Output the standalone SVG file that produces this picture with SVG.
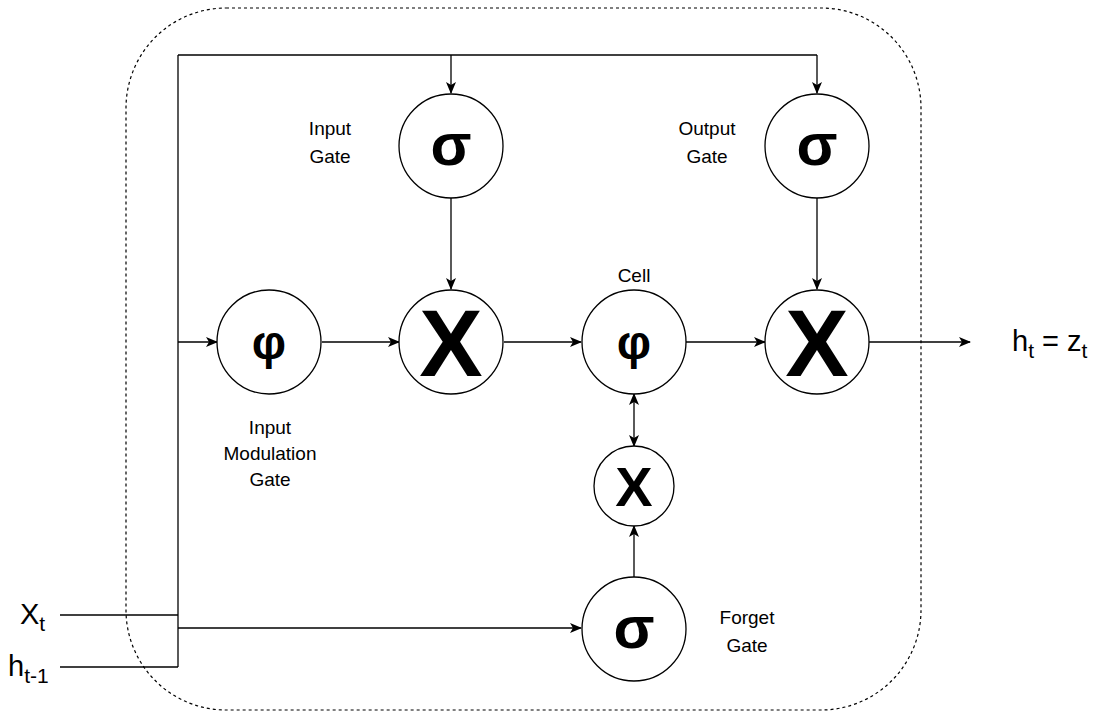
<svg xmlns="http://www.w3.org/2000/svg" width="1100" height="715" viewBox="0 0 1100 715">
<defs>
<marker id="arr" viewBox="0 0 12 10" refX="11" refY="5" markerWidth="12" markerHeight="10" markerUnits="userSpaceOnUse" orient="auto-start-reverse">
<path d="M0,0 L12,5 L0,10 L3,5 Z" fill="#000"/>
</marker>
</defs>
<style>
.node{fill:#fff;stroke:#000;stroke-width:1.3}
.line{fill:none;stroke:#000;stroke-width:1.3}
.lbl{font-family:"Liberation Sans",Arial,sans-serif;font-size:19px;fill:#000;text-anchor:middle}
.sym{font-family:"Liberation Sans",Arial,sans-serif;fill:#000;text-anchor:middle}
.io{font-family:"Liberation Sans",Arial,sans-serif;font-size:29px;fill:#000}
</style>
<rect width="1100" height="715" fill="#fff"/>
<rect id="cell-boundary" x="126" y="8" width="795" height="702" rx="100" ry="100" fill="none" stroke="#000" stroke-width="1.2" stroke-dasharray="3,3"/>
<g id="connectors">
<path class="line" d="M178,55 L178,667"/>
<path class="line" d="M178,55 L817,55"/>
<path class="line" d="M451,55 L451,93" marker-end="url(#arr)"/>
<path class="line" d="M817,55 L817,93" marker-end="url(#arr)"/>
<path class="line" d="M60,615 L178,615"/>
<path class="line" d="M60,667 L178,667"/>
<path class="line" d="M178,628 L581,628" marker-end="url(#arr)"/>
<path class="line" d="M178,342 L217,342" marker-end="url(#arr)"/>
<path class="line" d="M322,342 L399,342" marker-end="url(#arr)"/>
<path class="line" d="M451,198 L451,289" marker-end="url(#arr)"/>
<path class="line" d="M504,342 L581,342" marker-end="url(#arr)"/>
<path class="line" d="M686,342 L765,342" marker-end="url(#arr)"/>
<path class="line" d="M817,198 L817,289" marker-end="url(#arr)"/>
<path class="line" d="M869,342 L970,342" marker-end="url(#arr)"/>
<path class="line" d="M634,577 L634,526" marker-end="url(#arr)"/>
<path class="line" d="M634,446 L634,394" marker-start="url(#arr)" marker-end="url(#arr)"/>
</g>
<g id="input-gate">
<circle class="node" cx="451" cy="146" r="52"/>
<text class="sym" x="451" y="165" font-size="60" font-weight="bold">σ</text>
<text class="lbl" x="330" y="135">Input</text>
<text class="lbl" x="330" y="163">Gate</text>
</g>
<g id="output-gate">
<circle class="node" cx="817" cy="146" r="52"/>
<text class="sym" x="817" y="165" font-size="60" font-weight="bold">σ</text>
<text class="lbl" x="707" y="135">Output</text>
<text class="lbl" x="707" y="163">Gate</text>
</g>
<g id="input-modulation-gate">
<circle class="node" cx="269" cy="342" r="52"/>
<text class="sym" x="269" y="359" font-size="48" font-weight="bold">φ</text>
<text class="lbl" x="270" y="434">Input</text>
<text class="lbl" x="270" y="460">Modulation</text>
<text class="lbl" x="270" y="486">Gate</text>
</g>
<g id="input-multiply">
<circle class="node" cx="451" cy="342" r="52"/>
<text class="sym" x="451" y="376" font-size="95" font-weight="bold">X</text>
</g>
<g id="cell">
<circle class="node" cx="634" cy="342" r="52"/>
<text class="sym" x="634" y="359" font-size="48" font-weight="bold">φ</text>
<text class="lbl" x="634" y="282">Cell</text>
</g>
<g id="output-multiply">
<circle class="node" cx="817" cy="342" r="52"/>
<text class="sym" x="817" y="376" font-size="95" font-weight="bold">X</text>
</g>
<g id="forget-multiply">
<circle class="node" cx="634" cy="486" r="40"/>
<text class="sym" x="634" y="506" font-size="56" font-weight="bold">X</text>
</g>
<g id="forget-gate">
<circle class="node" cx="634" cy="629" r="52"/>
<text class="sym" x="634" y="648" font-size="60" font-weight="bold">σ</text>
<text class="lbl" x="747" y="624">Forget</text>
<text class="lbl" x="747" y="652">Gate</text>
</g>
<g id="inputs">
<text class="io" x="20" y="624">X<tspan font-size="21" dy="7">t</tspan></text>
<text class="io" x="8" y="676">h<tspan font-size="21" dy="7">t-1</tspan></text>
</g>
<g id="output">
<text class="io" x="1012" y="351">h<tspan font-size="21" dy="7">t</tspan><tspan dy="-7"> = z</tspan><tspan font-size="21" dy="7">t</tspan></text>
</g>
</svg>
